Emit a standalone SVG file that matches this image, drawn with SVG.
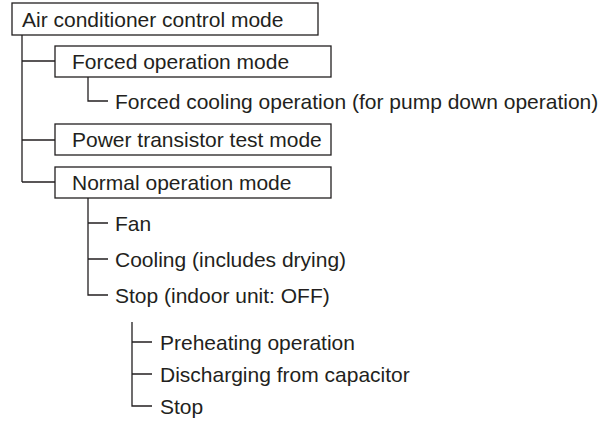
<svg xmlns="http://www.w3.org/2000/svg" width="610" height="437" viewBox="0 0 610 437">
<style>
.box{fill:#fff;stroke:#231f20;stroke-width:1.3}
.ln{fill:none;stroke:#231f20;stroke-width:1.3}
text{font-family:"Liberation Sans",Arial,sans-serif;font-size:21px;fill:#231f20}
</style>
<rect width="610" height="437" fill="#fff"/>
<g id="connectors">
<path class="ln" d="M22,35 V182 M22,61 H55 M22,140 H55 M22,182 H55"/>
<path class="ln" d="M88,77 V101 H108"/>
<path class="ln" d="M88,198 V295 H108 M88,223 H108 M88,259 H108"/>
<path class="ln" d="M132,322 V406 H152 M132,342 H152 M132,374 H152"/>
</g>
<g id="root"><rect class="box" x="12" y="3" width="306" height="32"/><text x="22" y="26.5">Air conditioner control mode</text></g>
<g id="forced"><rect class="box" x="55" y="46" width="276" height="31"/><text x="72" y="69">Forced operation mode</text></g>
<g id="forced-cooling"><text x="115" y="108.5">Forced cooling operation (for pump down operation)</text></g>
<g id="power"><rect class="box" x="55" y="124" width="276" height="31"/><text x="72" y="147">Power transistor test mode</text></g>
<g id="normal"><rect class="box" x="55" y="167" width="276" height="31"/><text x="72" y="190">Normal operation mode</text></g>
<g id="fan"><text x="115" y="230.5">Fan</text></g>
<g id="cooling"><text x="115" y="266.5">Cooling (includes drying)</text></g>
<g id="stop-indoor"><text x="115" y="302.5">Stop (indoor unit: OFF)</text></g>
<g id="preheat"><text x="160" y="349.5">Preheating operation</text></g>
<g id="discharge"><text x="160" y="381.5">Discharging from capacitor</text></g>
<g id="stop"><text x="160" y="413.5">Stop</text></g>
</svg>
